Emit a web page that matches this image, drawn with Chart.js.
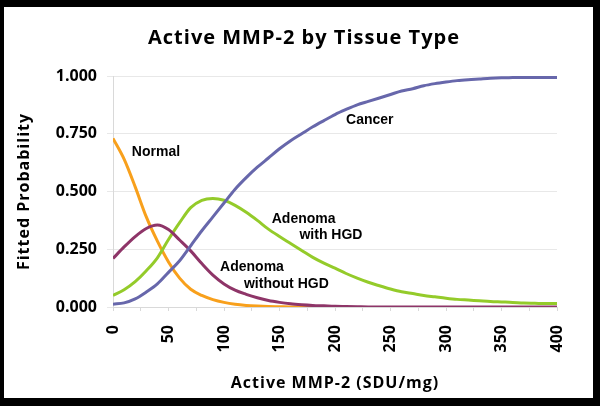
<!DOCTYPE html>
<html>
<head>
<meta charset="utf-8">
<script src="https://cdn.jsdelivr.net/npm/chart.js@4.4.1/dist/chart.umd.min.js"></script>
<style>
  html, body { margin: 0; padding: 0; background: #000; }
  #frame { position: relative; width: 600px; height: 406px; background: #000; overflow: hidden; }
  #wrap { position: absolute; left: 4px; top: 7px; width: 589px; height: 391px; background: #fff; }
  canvas { display: block; }
</style>
</head>
<body>
<div id="frame"><div id="wrap"><canvas id="c" width="589" height="391"></canvas></div></div>
<script>
// ---- data ----
const chartTitle = 'Active MMP-2 by Tissue Type';
const xTitle = 'Active MMP-2 (SDU/mg)';
const yTitle = 'Fitted Probability';
const mmp2 = [0,10,20,30,40,50,60,70,80,90,100,110,120,130,140,150,160,170,180,190,200,
              210,220,230,240,250,260,270,280,290,300,310,320,330,340,350,360,370,380,390,400];
const normal = [0.73,0.64,0.52,0.39,0.285,0.195,0.125,0.077,0.05,0.032,0.02,0.012,0.007,0.004,0.002,0.001,0,0,0,0];
const adenomaNoHGD = [0.21,0.26,0.305,0.34,0.355,0.335,0.29,0.243,0.188,0.138,0.1,0.073,0.055,0.04,0.028,0.02,0.014,0.01,0.007,0.005,0.003,
                      0.002,0.001,0,0,0,0,0,0,0,0,0,0,0,0,0,0,0,0,0,0];
const adenomaHGD = [0.05,0.075,0.11,0.157,0.213,0.292,0.365,0.43,0.462,0.47,0.462,0.44,0.41,0.375,0.337,0.305,0.275,0.245,0.215,0.19,0.168,
                    0.145,0.125,0.107,0.092,0.078,0.066,0.058,0.05,0.044,0.038,0.033,0.03,0.027,0.024,0.022,0.02,0.017,0.016,0.015,0.015];
const cancer = [0.012,0.018,0.035,0.065,0.1,0.15,0.2,0.265,0.33,0.39,0.45,0.51,0.56,0.605,0.645,0.685,0.72,0.75,0.78,0.807,0.833,
                0.855,0.875,0.89,0.905,0.92,0.935,0.945,0.958,0.967,0.974,0.98,0.984,0.987,0.99,0.992,0.993,0.994,0.994,0.994,0.994];
const yTicks = [0, 0.25, 0.5, 0.75, 1];
// curve labels: text lines with anchor in data units (left edge, vertical centre)
const labelTexts = ['Cancer','Normal','Adenoma','with HGD','Adenoma','without HGD'];
const labelX = [210, 17, 143, 168, 96.5, 118];
const labelY = [0.81, 0.671, 0.381, 0.31, 0.171, 0.1];

const pts = (arr) => arr.map((v, i) => ({x: mmp2[i], y: v}));

const curveLabels = {
  id: 'curveLabels',
  afterLayout(chart) {
    // centre the chart title over the whole frame, as in the reference
    if (chart.titleBlock) { chart.titleBlock.left = 0; chart.titleBlock.right = chart.width + 11; }
  },
  beforeDraw(chart) { chart.ctx.letterSpacing = '1px'; },
  beforeDatasetsDraw(chart) { chart.ctx.letterSpacing = '0px'; },
  afterDraw(chart) {
    const ctx = chart.ctx, xs = chart.scales.x, ys = chart.scales.y;
    ctx.save();
    ctx.letterSpacing = '0px';
    ctx.fillStyle = '#000';
    ctx.font = 'bold 14px "Liberation Sans", Arial, sans-serif';
    ctx.textAlign = 'left';
    ctx.textBaseline = 'middle';
    labelTexts.forEach((t, i) => {
      ctx.fillText(t, xs.getPixelForValue(labelX[i]), ys.getPixelForValue(labelY[i]));
    });
    ctx.restore();
  }
};

const lineDs = (label, arr, color) => ({
  label, data: pts(arr), borderColor: color, backgroundColor: color,
  borderWidth: 3, pointRadius: 0, fill: false, cubicInterpolationMode: 'monotone'
});

new Chart(document.getElementById('c'), {
  type: 'line',
  data: {
    datasets: [
      lineDs('Cancer', cancer, '#6767ab'),
      lineDs('Adenoma without HGD', adenomaNoHGD, '#8e3568'),
      lineDs('Adenoma with HGD', adenomaHGD, '#94cb2a'),
      lineDs('Normal', normal, '#f8a01c')
    ]
  },
  options: {
    responsive: false,
    animation: false,
    events: [],
    layout: { padding: { left: 0, right: 36, top: 0, bottom: 0 } },
    plugins: {
      legend: { display: false },
      tooltip: { enabled: false },
      title: {
        display: true, text: chartTitle, color: '#000',
        font: { family: '"Open Sans", sans-serif', size: 20, weight: 'bold', lineHeight: 1.2 },
        padding: { top: 19, bottom: 26 }
      }
    },
    scales: {
      x: {
        type: 'linear', min: 0, max: 400,
        afterFit(s) { s.height = 91; },
        ticks: {
          stepSize: 25, autoSkip: false, maxRotation: 90, minRotation: 90, padding: 14, z: 1,
          color: '#000',
          font: { family: '"Open Sans", sans-serif', size: 16, weight: 'bold', lineHeight: 0.8 },
          callback: (v) => (v % 50 === 0 ? String(v) : '')
        },
        grid: { drawOnChartArea: false, drawTicks: true, tickLength: 4, color: '#d9d9d9' },
        border: { color: '#d9d9d9' },
        title: {
          display: true, text: xTitle, color: '#000',
          font: { family: '"Open Sans", sans-serif', size: 16, weight: 'bold', lineHeight: 1.2 },
          padding: { top: 0, bottom: 5 }
        }
      },
      y: {
        min: 0, max: 1,
        afterFit(s) { s.width = 109; },
        afterBuildTicks(s) { s.ticks = yTicks.map(v => ({value: v})); },
        ticks: {
          padding: 10, z: 1, color: '#000',
          font: { family: '"Open Sans", sans-serif', size: 16, weight: 'bold' },
          callback: (v) => Number(v).toFixed(3)
        },
        grid: { color: '#e8e8e8', tickLength: 6 },
        border: { color: '#d9d9d9' },
        title: {
          display: true, text: yTitle, color: '#000',
          font: { family: '"Open Sans", sans-serif', size: 16, weight: 'bold', lineHeight: 1.2 },
          padding: { top: 11, bottom: 0 }
        }
      }
    }
  },
  plugins: [curveLabels]
});
</script>
</body>
</html>
